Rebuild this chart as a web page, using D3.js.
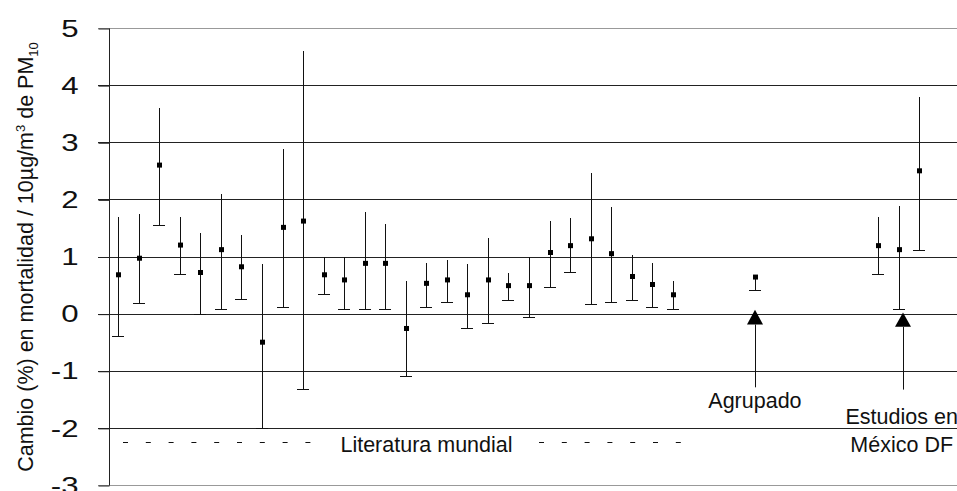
<!DOCTYPE html>
<html lang="es">
<head>
<meta charset="utf-8">
<title>Cambio en mortalidad por PM10</title>
<script src="https://cdn.jsdelivr.net/npm/d3@7"></script>
<style>
  body { margin: 0; background: #fff; }
  svg { display: block; font-family: "Liberation Sans", Arial, sans-serif; }
  .grid line { stroke: #222; stroke-width: 1; shape-rendering: crispEdges; }
  .bar { stroke: #111; stroke-width: 1; shape-rendering: crispEdges; }
  .pt { fill: #000; }
</style>
</head>
<body>
<svg id="chart"></svg>
<script>
// estudios de la literatura mundial (estimado, limite superior, limite inferior)
var litEst  = [0.68, 0.97, 2.60, 1.20, 0.72, 1.12, 0.82, -0.50, 1.51, 1.62,
               0.68, 0.59, 0.88, 0.88, -0.26, 0.53, 0.59, 0.33, 0.59, 0.49,
               0.49, 1.07, 1.19, 1.31, 1.05, 0.65, 0.51, 0.33];
var litHigh = [1.70, 1.74, 3.60, 1.70, 1.42, 2.09, 1.38, 0.86, 2.88, 4.60,
               1.00, 1.00, 1.78, 1.57, 0.57, 0.89, 0.94, 0.87, 1.33, 0.71,
               1.00, 1.62, 1.67, 2.46, 1.86, 1.03, 0.88, 0.57];
var litLow  = [-0.40, 0.19, 1.56, 0.69, 0.00, 0.08, 0.25, -2.00, 0.12, -1.32,
               0.34, 0.08, 0.08, 0.08, -1.10, 0.12, 0.20, -0.25, -0.16, 0.23,
               -0.06, 0.46, 0.72, 0.17, 0.20, 0.23, 0.12, 0.08];
// estimado agrupado
var poolEst = 0.64, poolHigh = 0.68, poolLow = 0.42;
// estudios en Mexico DF
var mexEst  = [1.19, 1.12, 2.50];
var mexHigh = [1.69, 1.88, 3.80];
var mexLow  = [0.69, 0.08, 1.11];

var yTicks = [-3, -2, -1, 0, 1, 2, 3, 4, 5];

// categorias del eje x (con huecos entre grupos)
var litNames = litEst.map(function(d, i) { return "L" + (i + 1); });
var mexNames = mexEst.map(function(d, i) { return "M" + (i + 1); });
var categories = litNames.concat(["g1", "g2", "g3", "Agrupado", "g4", "g5", "g6", "g7", "g8"], mexNames);

var rows = [];
litEst.forEach(function(d, i) { rows.push({cat: litNames[i], est: d, hi: litHigh[i], lo: litLow[i]}); });
rows.push({cat: "Agrupado", est: poolEst, hi: poolHigh, lo: poolLow});
mexEst.forEach(function(d, i) { rows.push({cat: mexNames[i], est: d, hi: mexHigh[i], lo: mexLow[i]}); });

var width = 957, height = 491;
var svg = d3.select("#chart").attr("width", width).attr("height", height);

var x = d3.scaleBand().domain(categories).range([108, 929.5]);
var y = d3.scaleLinear().domain([-3, 5]).range([485, 28]);
var cx = function(c) { return x(c) + x.bandwidth() / 2; };

// lineas de cuadricula
svg.append("g").attr("class", "grid")
  .selectAll("line").data(yTicks).enter().append("line")
  .attr("x1", 98).attr("x2", width)
  .attr("y1", function(d) { return Math.round(y(d)) + 0.5; })
  .attr("y2", function(d) { return Math.round(y(d)) + 0.5; })
  .style("stroke", function(d) { return (d === 5 || d === -3) ? "#999" : "#222"; });

// eje y
var yAxis = svg.append("g")
  .attr("transform", "translate(109.5,0.5)")
  .call(d3.axisLeft(y).tickValues(yTicks).tickSize(11).tickFormat(function(d) { return d < 0 ? "-" + Math.abs(d) : d; }));
yAxis.select(".domain").attr("stroke", "#222").attr("d", "M0," + y(5) + "V" + y(-3));
yAxis.selectAll(".tick line").attr("stroke", "#222");
yAxis.selectAll(".tick text")
  .attr("x", -31 / 1.3)
  .attr("transform", "scale(1.3,1)")
  .style("font-size", "24px")
  .style("font-family", "'Liberation Sans', Arial, sans-serif")
  .attr("fill", "#111");

// titulo eje y
var yt = svg.append("text")
  .attr("transform", "translate(33,257) rotate(-90)")
  .attr("text-anchor", "middle")
  .style("font-size", "21.5px")
  .attr("fill", "#111");
yt.append("tspan").text("Cambio (%) en mortalidad / 10µg/m");
yt.append("tspan").text("3").style("font-size", "13px").attr("dy", -8);
yt.append("tspan").text(" de PM").style("font-size", "21.5px").attr("dy", 8);
yt.append("tspan").text("10").style("font-size", "13px").attr("dy", 5);

// barras de error
var g = svg.append("g");
g.selectAll(".bar.v").data(rows).enter().append("line")
  .attr("class", "bar v")
  .attr("x1", function(d) { return Math.round(cx(d.cat)) + 0.5; })
  .attr("x2", function(d) { return Math.round(cx(d.cat)) + 0.5; })
  .attr("y1", function(d) { return y(d.hi); })
  .attr("y2", function(d) { return y(d.lo); });
g.selectAll(".bar.cap").data(rows).enter().append("line")
  .attr("class", "bar cap")
  .attr("x1", function(d) { return cx(d.cat) - 6; })
  .attr("x2", function(d) { return cx(d.cat) + 6; })
  .attr("y1", function(d) { return Math.round(y(d.lo)) + 0.5; })
  .attr("y2", function(d) { return Math.round(y(d.lo)) + 0.5; });
g.selectAll(".pt").data(rows).enter().append("rect")
  .attr("class", "pt")
  .attr("x", function(d) { return Math.round(cx(d.cat)) - 2; })
  .attr("y", function(d) { return y(d.est) - 2.5; })
  .attr("width", 5).attr("height", 5);

// flechas
function arrow(xc, tip, base, end) {
  svg.append("path")
    .attr("d", "M" + xc + "," + y(tip) + "L" + (xc - 8) + "," + y(base) + "L" + (xc + 8) + "," + y(base) + "Z")
    .attr("fill", "#000");
  svg.append("line")
    .attr("x1", xc + 0.5).attr("x2", xc + 0.5)
    .attr("y1", y(base)).attr("y2", y(end))
    .attr("stroke", "#111").attr("stroke-width", 1);
}
arrow(Math.round(cx("Agrupado")), 0.07, -0.19, -1.29);
arrow(Math.round(cx("M2")) + 4, 0.02, -0.23, -1.33);

function label(xc, v, txt) {
  svg.append("text").attr("x", xc).attr("y", y(v))
    .attr("text-anchor", "middle").style("font-size", "21.5px").attr("fill", "#111")
    .text(txt);
}
label(cx("Agrupado"), -1.66, "Agrupado");
label(cx("M2") + 3, -1.94, "Estudios en");
label(cx("M2") + 3, -2.42, "México DF");
label(426.5, -2.43, "Literatura mundial");

// guiones de la literatura mundial
svg.append("line").attr("x1", 123).attr("x2", 311)
  .attr("y1", Math.round(y(-2.24)) + 0.5).attr("y2", Math.round(y(-2.24)) + 0.5)
  .attr("stroke", "#111").attr("stroke-dasharray", "5,17.8");
svg.append("line").attr("x1", 539).attr("x2", 681)
  .attr("y1", Math.round(y(-2.24)) + 0.5).attr("y2", Math.round(y(-2.24)) + 0.5)
  .attr("stroke", "#111").attr("stroke-dasharray", "5,17.8");
</script>
</body>
</html>
